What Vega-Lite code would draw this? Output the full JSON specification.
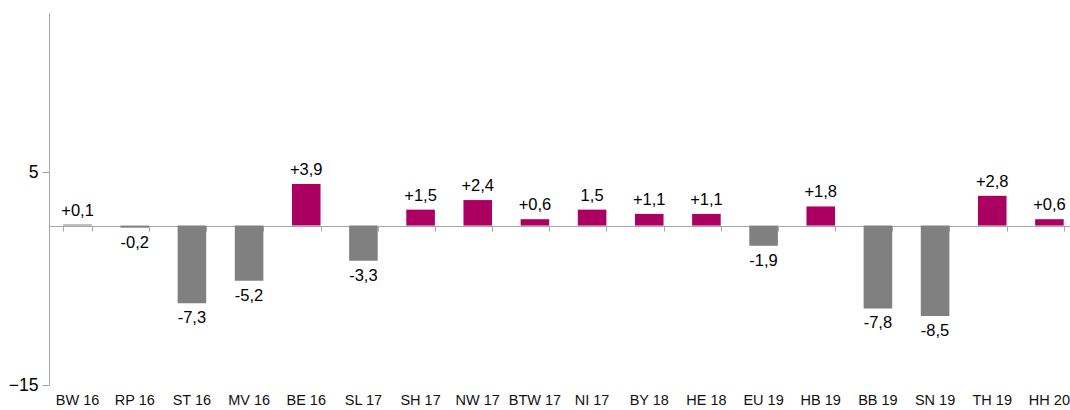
{
  "$schema": "https://vega.github.io/schema/vega-lite/v6.json",
  "width": 1029,
  "height": 372,
  "autosize": "none",
  "padding": {"left": 49, "top": 13, "right": 0, "bottom": 25},
  "background": "white",
  "config": {
    "view": {"stroke": null},
    "font": "Liberation Sans"
  },
  "data": {
    "values": [
      {"cat": "BW 16", "v": 0.1, "label": "+0,1"},
      {"cat": "RP 16", "v": -0.2, "label": "-0,2"},
      {"cat": "ST 16", "v": -7.3, "label": "-7,3"},
      {"cat": "MV 16", "v": -5.2, "label": "-5,2"},
      {"cat": "BE 16", "v": 3.9, "label": "+3,9"},
      {"cat": "SL 17", "v": -3.3, "label": "-3,3"},
      {"cat": "SH 17", "v": 1.5, "label": "+1,5"},
      {"cat": "NW 17", "v": 2.4, "label": "+2,4"},
      {"cat": "BTW 17", "v": 0.6, "label": "+0,6"},
      {"cat": "NI 17", "v": 1.5, "label": "1,5"},
      {"cat": "BY 18", "v": 1.1, "label": "+1,1"},
      {"cat": "HE 18", "v": 1.1, "label": "+1,1"},
      {"cat": "EU 19", "v": -1.9, "label": "-1,9"},
      {"cat": "HB 19", "v": 1.8, "label": "+1,8"},
      {"cat": "BB 19", "v": -7.8, "label": "-7,8"},
      {"cat": "SN 19", "v": -8.5, "label": "-8,5"},
      {"cat": "TH 19", "v": 2.8, "label": "+2,8"},
      {"cat": "HH 20", "v": 0.6, "label": "+0,6"}
    ]
  },
  "resolve": {"axis": {"x": "independent"}},
  "layer": [
    {
      "mark": {"type": "bar"},
      "encoding": {
        "x": {
          "field": "cat", "type": "nominal", "sort": null,
          "scale": {"paddingInner": 0.5, "paddingOuter": 0.25},
          "axis": {"title": null, "orient": "bottom", "domain": false, "ticks": false, "labelAngle": 0, "labelFontSize": 14.5, "labelColor": "#111111", "labelPadding": 8, "labelFont": "Liberation Sans"}
        },
        "y": {
          "field": "v", "type": "quantitative",
          "scale": {"domain": [-15, 20], "nice": false, "zero": false},
          "axis": {"title": null, "values": [-15, 5], "grid": false, "domainColor": "#a6a6a6", "tickColor": "#a6a6a6", "tickSize": 7, "labelFontSize": 17.5, "labelColor": "#000000", "labelPadding": 4, "labelFont": "Liberation Sans"}
        },
        "color": {
          "condition": {"test": "datum.v > 0.1", "value": "#AB0062"},
          "value": "#808080"
        }
      }
    },
    {
      "transform": [{"filter": "datum.v >= 0"}],
      "mark": {"type": "text", "baseline": "bottom", "dy": -6, "fontSize": 16.5, "color": "#000000", "font": "Liberation Sans"},
      "encoding": {
        "x": {"field": "cat", "type": "nominal", "sort": null, "axis": null},
        "y": {"field": "v", "type": "quantitative"},
        "text": {"field": "label"}
      }
    },
    {
      "transform": [{"filter": "datum.v < 0"}],
      "mark": {"type": "text", "baseline": "top", "dy": 7, "fontSize": 16.5, "color": "#000000", "font": "Liberation Sans"},
      "encoding": {
        "x": {"field": "cat", "type": "nominal", "sort": null, "axis": null},
        "y": {"field": "v", "type": "quantitative"},
        "text": {"field": "label"}
      }
    },
    {
      "mark": {"type": "point", "opacity": 0},
      "encoding": {
        "x": {
          "field": "cat", "type": "nominal", "sort": null,
          "axis": {"title": null, "orient": "bottom", "offset": -159, "labels": false, "domain": true, "domainColor": "#a6a6a6", "ticks": true, "tickColor": "#a6a6a6", "tickSize": 5, "tickBand": "extent"}
        },
        "y": {"datum": 0, "type": "quantitative"}
      }
    }
  ]
}
